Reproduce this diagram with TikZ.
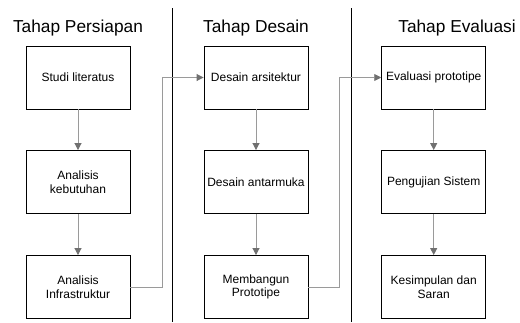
\documentclass[tikz,border=0pt]{standalone}
\usepackage{fontspec}
\setmainfont{Liberation Sans}
\usetikzlibrary{arrows.meta}
\definecolor{linegray}{HTML}{9A9A9A}
\definecolor{tipgray}{HTML}{707070}
\begin{document}
\begin{tikzpicture}[x=1pt,y=-1pt,
  stepbox/.style={draw=black,line width=0.9pt,minimum width=104pt,minimum height=63pt,
    align=center,font=\fontsize{12}{13.5}\selectfont,inner sep=2pt},
  title/.style={font=\fontsize{17.3}{20}\selectfont,anchor=center},
  divider/.style={draw=black,line width=0.9pt},
  flow/.style={draw=linegray,line width=0.9pt,
    -{Triangle[length=7pt,width=7pt,color=tipgray,fill=tipgray]}}]
\useasboundingbox (0,0) rectangle (520,322);

% column titles
\node[title] (t1) at (78,28) {Tahap Persiapan};
\node[title] (t2) at (256,28) {Tahap Desain};
\node[title] (t3) at (457,28) {Tahap Evaluasi};

% dividers between the phases
\coordinate (d1top) at (172.3,8);
\coordinate (d1bot) at (172.3,322);
\coordinate (d2top) at (351.7,8);
\coordinate (d2bot) at (351.7,322);
\draw[divider] (d1top) -- (d1bot);
\draw[divider] (d2top) -- (d2bot);

% phase 1
\node[stepbox] (a1) at (78,77.5) {Studi literatus};
\node[stepbox] (a2) at (78,182) {Analisis\\kebutuhan};
\node[stepbox] (a3) at (78,287) {Analisis\\Infrastruktur};

% phase 2
\node[stepbox] (b1) at (256,77.5) {Desain arsitektur};
\node[stepbox] (b2) at (256,182) {Desain antarmuka};
\node[stepbox] (b3) at (256,287) {Membangun\\Prototipe};

% phase 3
\node[stepbox] (c1) at (433.7,77.5) {Evaluasi prototipe};
\node[stepbox] (c2) at (433.7,182) {Pengujian Sistem};
\node[stepbox] (c3) at (433.7,287) {Kesimpulan dan\\Saran};

% flow inside each phase
\draw[flow] (a1) -- (a2);
\draw[flow] (a2) -- (a3);
\draw[flow] (b1) -- (b2);
\draw[flow] (b2) -- (b3);
\draw[flow] (c1) -- (c2);
\draw[flow] (c2) -- (c3);

% flow from one phase to the next
\draw[flow] (a3.east) -- ++(31.7,0) |- (b1.west);
\draw[flow] (b3.east) -- ++(30.5,0) |- (c1.west);
\end{tikzpicture}
\end{document}
